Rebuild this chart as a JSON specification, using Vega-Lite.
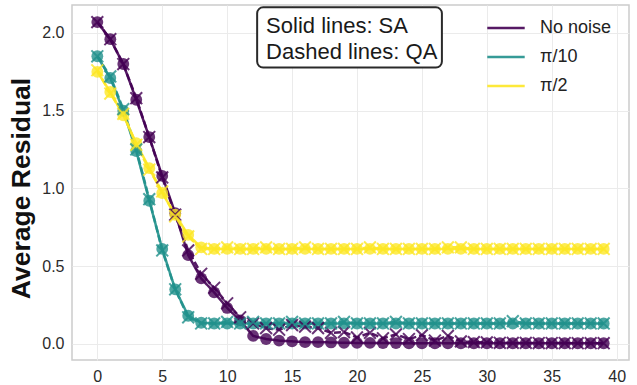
{
  "$schema": "https://vega.github.io/schema/vega-lite/v6.json",
  "width": 557,
  "height": 355,
  "autosize": {"type": "none"},
  "padding": {"left": 72, "top": 5, "right": 8, "bottom": 25},
  "background": "white",
  "config": {
    "font": "Liberation Sans",
    "view": {"stroke": "#cccccc", "strokeWidth": 1.5},
    "axis": {"grid": true, "gridColor": "#ebebeb", "gridWidth": 1, "domain": false, "ticks": false, "labelFontSize": 16, "labelColor": "#2b2b2b", "labelPadding": 8}
  },
  "datasets": {
    "series": [
      {"i":0,"n":"No noise","m":"SA","v":2.07},{"i":1,"n":"No noise","m":"SA","v":1.96},{"i":2,"n":"No noise","m":"SA","v":1.8},{"i":3,"n":"No noise","m":"SA","v":1.57},{"i":4,"n":"No noise","m":"SA","v":1.33},{"i":5,"n":"No noise","m":"SA","v":1.08},{"i":6,"n":"No noise","m":"SA","v":0.84},{"i":7,"n":"No noise","m":"SA","v":0.57},{"i":8,"n":"No noise","m":"SA","v":0.42},{"i":9,"n":"No noise","m":"SA","v":0.33},{"i":10,"n":"No noise","m":"SA","v":0.23},{"i":11,"n":"No noise","m":"SA","v":0.15},{"i":12,"n":"No noise","m":"SA","v":0.05},{"i":13,"n":"No noise","m":"SA","v":0.03},{"i":14,"n":"No noise","m":"SA","v":0.02},{"i":15,"n":"No noise","m":"SA","v":0.015},{"i":16,"n":"No noise","m":"SA","v":0.01},{"i":17,"n":"No noise","m":"SA","v":0.01},{"i":18,"n":"No noise","m":"SA","v":0.008},{"i":19,"n":"No noise","m":"SA","v":0.006},{"i":20,"n":"No noise","m":"SA","v":0.005},{"i":21,"n":"No noise","m":"SA","v":0.005},{"i":22,"n":"No noise","m":"SA","v":0.004},{"i":23,"n":"No noise","m":"SA","v":0.004},{"i":24,"n":"No noise","m":"SA","v":0.003},{"i":25,"n":"No noise","m":"SA","v":0.003},{"i":26,"n":"No noise","m":"SA","v":0.003},{"i":27,"n":"No noise","m":"SA","v":0.003},{"i":28,"n":"No noise","m":"SA","v":0.003},{"i":29,"n":"No noise","m":"SA","v":0.003},{"i":30,"n":"No noise","m":"SA","v":0.003},{"i":31,"n":"No noise","m":"SA","v":0.003},{"i":32,"n":"No noise","m":"SA","v":0.003},{"i":33,"n":"No noise","m":"SA","v":0.003},{"i":34,"n":"No noise","m":"SA","v":0.003},{"i":35,"n":"No noise","m":"SA","v":0.003},{"i":36,"n":"No noise","m":"SA","v":0.003},{"i":37,"n":"No noise","m":"SA","v":0.003},{"i":38,"n":"No noise","m":"SA","v":0.003},{"i":39,"n":"No noise","m":"SA","v":0.003},
      {"i":0,"n":"No noise","m":"QA","v":2.07},{"i":1,"n":"No noise","m":"QA","v":1.96},{"i":2,"n":"No noise","m":"QA","v":1.8},{"i":3,"n":"No noise","m":"QA","v":1.58},{"i":4,"n":"No noise","m":"QA","v":1.33},{"i":5,"n":"No noise","m":"QA","v":1.07},{"i":6,"n":"No noise","m":"QA","v":0.83},{"i":7,"n":"No noise","m":"QA","v":0.6},{"i":8,"n":"No noise","m":"QA","v":0.45},{"i":9,"n":"No noise","m":"QA","v":0.36},{"i":10,"n":"No noise","m":"QA","v":0.26},{"i":11,"n":"No noise","m":"QA","v":0.17},{"i":12,"n":"No noise","m":"QA","v":0.13},{"i":13,"n":"No noise","m":"QA","v":0.1},{"i":14,"n":"No noise","m":"QA","v":0.09},{"i":15,"n":"No noise","m":"QA","v":0.12},{"i":16,"n":"No noise","m":"QA","v":0.11},{"i":17,"n":"No noise","m":"QA","v":0.1},{"i":18,"n":"No noise","m":"QA","v":0.07},{"i":19,"n":"No noise","m":"QA","v":0.075},{"i":20,"n":"No noise","m":"QA","v":0.04},{"i":21,"n":"No noise","m":"QA","v":0.07},{"i":22,"n":"No noise","m":"QA","v":0.035},{"i":23,"n":"No noise","m":"QA","v":0.06},{"i":24,"n":"No noise","m":"QA","v":0.03},{"i":25,"n":"No noise","m":"QA","v":0.055},{"i":26,"n":"No noise","m":"QA","v":0.02},{"i":27,"n":"No noise","m":"QA","v":0.05},{"i":28,"n":"No noise","m":"QA","v":0.015},{"i":29,"n":"No noise","m":"QA","v":0.01},{"i":30,"n":"No noise","m":"QA","v":0.008},{"i":31,"n":"No noise","m":"QA","v":0.006},{"i":32,"n":"No noise","m":"QA","v":0.005},{"i":33,"n":"No noise","m":"QA","v":0.005},{"i":34,"n":"No noise","m":"QA","v":0.004},{"i":35,"n":"No noise","m":"QA","v":0.004},{"i":36,"n":"No noise","m":"QA","v":0.004},{"i":37,"n":"No noise","m":"QA","v":0.003},{"i":38,"n":"No noise","m":"QA","v":0.003},{"i":39,"n":"No noise","m":"QA","v":0.003},
      {"i":0,"n":"π/10","m":"SA","v":1.85},{"i":1,"n":"π/10","m":"SA","v":1.71},{"i":2,"n":"π/10","m":"SA","v":1.5},{"i":3,"n":"π/10","m":"SA","v":1.24},{"i":4,"n":"π/10","m":"SA","v":0.92},{"i":5,"n":"π/10","m":"SA","v":0.61},{"i":6,"n":"π/10","m":"SA","v":0.35},{"i":7,"n":"π/10","m":"SA","v":0.18},{"i":8,"n":"π/10","m":"SA","v":0.135},{"i":9,"n":"π/10","m":"SA","v":0.13},{"i":10,"n":"π/10","m":"SA","v":0.13},{"i":11,"n":"π/10","m":"SA","v":0.13},{"i":12,"n":"π/10","m":"SA","v":0.13},{"i":13,"n":"π/10","m":"SA","v":0.13},{"i":14,"n":"π/10","m":"SA","v":0.13},{"i":15,"n":"π/10","m":"SA","v":0.13},{"i":16,"n":"π/10","m":"SA","v":0.13},{"i":17,"n":"π/10","m":"SA","v":0.13},{"i":18,"n":"π/10","m":"SA","v":0.13},{"i":19,"n":"π/10","m":"SA","v":0.13},{"i":20,"n":"π/10","m":"SA","v":0.13},{"i":21,"n":"π/10","m":"SA","v":0.13},{"i":22,"n":"π/10","m":"SA","v":0.13},{"i":23,"n":"π/10","m":"SA","v":0.13},{"i":24,"n":"π/10","m":"SA","v":0.13},{"i":25,"n":"π/10","m":"SA","v":0.13},{"i":26,"n":"π/10","m":"SA","v":0.13},{"i":27,"n":"π/10","m":"SA","v":0.13},{"i":28,"n":"π/10","m":"SA","v":0.13},{"i":29,"n":"π/10","m":"SA","v":0.13},{"i":30,"n":"π/10","m":"SA","v":0.13},{"i":31,"n":"π/10","m":"SA","v":0.13},{"i":32,"n":"π/10","m":"SA","v":0.13},{"i":33,"n":"π/10","m":"SA","v":0.13},{"i":34,"n":"π/10","m":"SA","v":0.13},{"i":35,"n":"π/10","m":"SA","v":0.13},{"i":36,"n":"π/10","m":"SA","v":0.13},{"i":37,"n":"π/10","m":"SA","v":0.13},{"i":38,"n":"π/10","m":"SA","v":0.13},{"i":39,"n":"π/10","m":"SA","v":0.13},
      {"i":0,"n":"π/10","m":"QA","v":1.85},{"i":1,"n":"π/10","m":"QA","v":1.72},{"i":2,"n":"π/10","m":"QA","v":1.51},{"i":3,"n":"π/10","m":"QA","v":1.25},{"i":4,"n":"π/10","m":"QA","v":0.93},{"i":5,"n":"π/10","m":"QA","v":0.6},{"i":6,"n":"π/10","m":"QA","v":0.35},{"i":7,"n":"π/10","m":"QA","v":0.17},{"i":8,"n":"π/10","m":"QA","v":0.13},{"i":9,"n":"π/10","m":"QA","v":0.13},{"i":10,"n":"π/10","m":"QA","v":0.14},{"i":11,"n":"π/10","m":"QA","v":0.13},{"i":12,"n":"π/10","m":"QA","v":0.14},{"i":13,"n":"π/10","m":"QA","v":0.13},{"i":14,"n":"π/10","m":"QA","v":0.13},{"i":15,"n":"π/10","m":"QA","v":0.14},{"i":16,"n":"π/10","m":"QA","v":0.13},{"i":17,"n":"π/10","m":"QA","v":0.13},{"i":18,"n":"π/10","m":"QA","v":0.13},{"i":19,"n":"π/10","m":"QA","v":0.14},{"i":20,"n":"π/10","m":"QA","v":0.13},{"i":21,"n":"π/10","m":"QA","v":0.13},{"i":22,"n":"π/10","m":"QA","v":0.13},{"i":23,"n":"π/10","m":"QA","v":0.14},{"i":24,"n":"π/10","m":"QA","v":0.13},{"i":25,"n":"π/10","m":"QA","v":0.13},{"i":26,"n":"π/10","m":"QA","v":0.13},{"i":27,"n":"π/10","m":"QA","v":0.13},{"i":28,"n":"π/10","m":"QA","v":0.13},{"i":29,"n":"π/10","m":"QA","v":0.13},{"i":30,"n":"π/10","m":"QA","v":0.13},{"i":31,"n":"π/10","m":"QA","v":0.13},{"i":32,"n":"π/10","m":"QA","v":0.145},{"i":33,"n":"π/10","m":"QA","v":0.13},{"i":34,"n":"π/10","m":"QA","v":0.13},{"i":35,"n":"π/10","m":"QA","v":0.13},{"i":36,"n":"π/10","m":"QA","v":0.13},{"i":37,"n":"π/10","m":"QA","v":0.13},{"i":38,"n":"π/10","m":"QA","v":0.13},{"i":39,"n":"π/10","m":"QA","v":0.13},
      {"i":0,"n":"π/2","m":"SA","v":1.75},{"i":1,"n":"π/2","m":"SA","v":1.62},{"i":2,"n":"π/2","m":"SA","v":1.47},{"i":3,"n":"π/2","m":"SA","v":1.29},{"i":4,"n":"π/2","m":"SA","v":1.13},{"i":5,"n":"π/2","m":"SA","v":0.97},{"i":6,"n":"π/2","m":"SA","v":0.83},{"i":7,"n":"π/2","m":"SA","v":0.7},{"i":8,"n":"π/2","m":"SA","v":0.62},{"i":9,"n":"π/2","m":"SA","v":0.61},{"i":10,"n":"π/2","m":"SA","v":0.61},{"i":11,"n":"π/2","m":"SA","v":0.61},{"i":12,"n":"π/2","m":"SA","v":0.61},{"i":13,"n":"π/2","m":"SA","v":0.61},{"i":14,"n":"π/2","m":"SA","v":0.61},{"i":15,"n":"π/2","m":"SA","v":0.61},{"i":16,"n":"π/2","m":"SA","v":0.61},{"i":17,"n":"π/2","m":"SA","v":0.61},{"i":18,"n":"π/2","m":"SA","v":0.61},{"i":19,"n":"π/2","m":"SA","v":0.61},{"i":20,"n":"π/2","m":"SA","v":0.61},{"i":21,"n":"π/2","m":"SA","v":0.61},{"i":22,"n":"π/2","m":"SA","v":0.61},{"i":23,"n":"π/2","m":"SA","v":0.61},{"i":24,"n":"π/2","m":"SA","v":0.61},{"i":25,"n":"π/2","m":"SA","v":0.61},{"i":26,"n":"π/2","m":"SA","v":0.61},{"i":27,"n":"π/2","m":"SA","v":0.61},{"i":28,"n":"π/2","m":"SA","v":0.61},{"i":29,"n":"π/2","m":"SA","v":0.61},{"i":30,"n":"π/2","m":"SA","v":0.61},{"i":31,"n":"π/2","m":"SA","v":0.61},{"i":32,"n":"π/2","m":"SA","v":0.61},{"i":33,"n":"π/2","m":"SA","v":0.61},{"i":34,"n":"π/2","m":"SA","v":0.61},{"i":35,"n":"π/2","m":"SA","v":0.61},{"i":36,"n":"π/2","m":"SA","v":0.61},{"i":37,"n":"π/2","m":"SA","v":0.61},{"i":38,"n":"π/2","m":"SA","v":0.61},{"i":39,"n":"π/2","m":"SA","v":0.61},
      {"i":0,"n":"π/2","m":"QA","v":1.76},{"i":1,"n":"π/2","m":"QA","v":1.61},{"i":2,"n":"π/2","m":"QA","v":1.48},{"i":3,"n":"π/2","m":"QA","v":1.28},{"i":4,"n":"π/2","m":"QA","v":1.12},{"i":5,"n":"π/2","m":"QA","v":0.98},{"i":6,"n":"π/2","m":"QA","v":0.82},{"i":7,"n":"π/2","m":"QA","v":0.69},{"i":8,"n":"π/2","m":"QA","v":0.61},{"i":9,"n":"π/2","m":"QA","v":0.61},{"i":10,"n":"π/2","m":"QA","v":0.62},{"i":11,"n":"π/2","m":"QA","v":0.61},{"i":12,"n":"π/2","m":"QA","v":0.61},{"i":13,"n":"π/2","m":"QA","v":0.62},{"i":14,"n":"π/2","m":"QA","v":0.61},{"i":15,"n":"π/2","m":"QA","v":0.61},{"i":16,"n":"π/2","m":"QA","v":0.62},{"i":17,"n":"π/2","m":"QA","v":0.61},{"i":18,"n":"π/2","m":"QA","v":0.61},{"i":19,"n":"π/2","m":"QA","v":0.61},{"i":20,"n":"π/2","m":"QA","v":0.61},{"i":21,"n":"π/2","m":"QA","v":0.62},{"i":22,"n":"π/2","m":"QA","v":0.61},{"i":23,"n":"π/2","m":"QA","v":0.61},{"i":24,"n":"π/2","m":"QA","v":0.61},{"i":25,"n":"π/2","m":"QA","v":0.61},{"i":26,"n":"π/2","m":"QA","v":0.61},{"i":27,"n":"π/2","m":"QA","v":0.62},{"i":28,"n":"π/2","m":"QA","v":0.62},{"i":29,"n":"π/2","m":"QA","v":0.61},{"i":30,"n":"π/2","m":"QA","v":0.61},{"i":31,"n":"π/2","m":"QA","v":0.61},{"i":32,"n":"π/2","m":"QA","v":0.61},{"i":33,"n":"π/2","m":"QA","v":0.61},{"i":34,"n":"π/2","m":"QA","v":0.61},{"i":35,"n":"π/2","m":"QA","v":0.61},{"i":36,"n":"π/2","m":"QA","v":0.61},{"i":37,"n":"π/2","m":"QA","v":0.61},{"i":38,"n":"π/2","m":"QA","v":0.61},{"i":39,"n":"π/2","m":"QA","v":0.61}
    ]
  },
  "layer": [
    {
      "data": {"name": "series"},
      "mark": {"type": "line", "strokeWidth": 2.5, "opacity": 0.9},
      "encoding": {
        "x": {"field": "i", "type": "quantitative", "scale": {"domain": [-1.95, 40.95], "nice": false, "zero": false}, "axis": {"values": [0,5,10,15,20,25,30,35,40], "title": null}},
        "y": {"field": "v", "type": "quantitative", "scale": {"domain": [-0.105, 2.18], "nice": false, "zero": false}, "axis": {"values": [0,0.5,1,1.5,2], "format": ".1f", "title": "Average Residual", "titleFontSize": 26.5, "titleFontWeight": "bold", "titleColor": "#111", "titlePadding": 6, "titleY": 183}},
        "color": {"field": "n", "type": "nominal", "scale": {"domain": ["No noise", "π/10", "π/2"], "range": ["#440154", "#21918c", "#fde725"]},
          "legend": {"title": null, "orient": "none", "legendX": 414, "legendY": 3, "symbolType": "stroke", "symbolSize": 1400, "symbolStrokeWidth": 2.5, "labelFontSize": 18, "labelColor": "#222", "rowPadding": -12, "labelOffset": 14}},
        "strokeDash": {"field": "m", "type": "nominal", "scale": {"domain": ["SA", "QA"], "range": [[1, 0], [7, 3]]}, "legend": null},
        "detail": {"field": "m"}
      }
    },
    {
      "data": {"name": "series"},
      "transform": [{"filter": "datum.m === 'SA'"}],
      "mark": {"type": "point", "shape": "circle", "filled": true, "size": 140, "opacity": 0.8},
      "encoding": {
        "x": {"field": "i", "type": "quantitative"},
        "y": {"field": "v", "type": "quantitative"},
        "color": {"field": "n", "type": "nominal", "legend": null}
      }
    },
    {
      "data": {"name": "series"},
      "transform": [{"filter": "datum.m === 'QA'"}],
      "mark": {"type": "point", "shape": "M-1,-1L1,1M-1,1L1,-1", "filled": false, "size": 140, "strokeWidth": 2, "opacity": 0.8},
      "encoding": {
        "x": {"field": "i", "type": "quantitative"},
        "y": {"field": "v", "type": "quantitative"},
        "color": {"field": "n", "type": "nominal", "legend": null}
      }
    },
    {
      "data": {"values": [{}]},
      "mark": {"type": "rect", "fill": "white", "stroke": "#2a2a2a", "strokeWidth": 2, "cornerRadius": 6},
      "encoding": {
        "x": {"datum": 12.31, "type": "quantitative"},
        "x2": {"datum": 26.54},
        "y": {"datum": 2.165, "type": "quantitative"},
        "y2": {"datum": 1.777}
      }
    },
    {
      "data": {"values": [{}]},
      "mark": {"type": "text", "align": "left", "baseline": "alphabetic", "fontSize": 22, "lineHeight": 26, "color": "#1a1a1a"},
      "encoding": {
        "x": {"datum": 13.0, "type": "quantitative"},
        "y": {"datum": 2.0, "type": "quantitative"},
        "text": {"value": ["Solid lines: SA", "Dashed lines: QA"]}
      }
    }
  ]
}
